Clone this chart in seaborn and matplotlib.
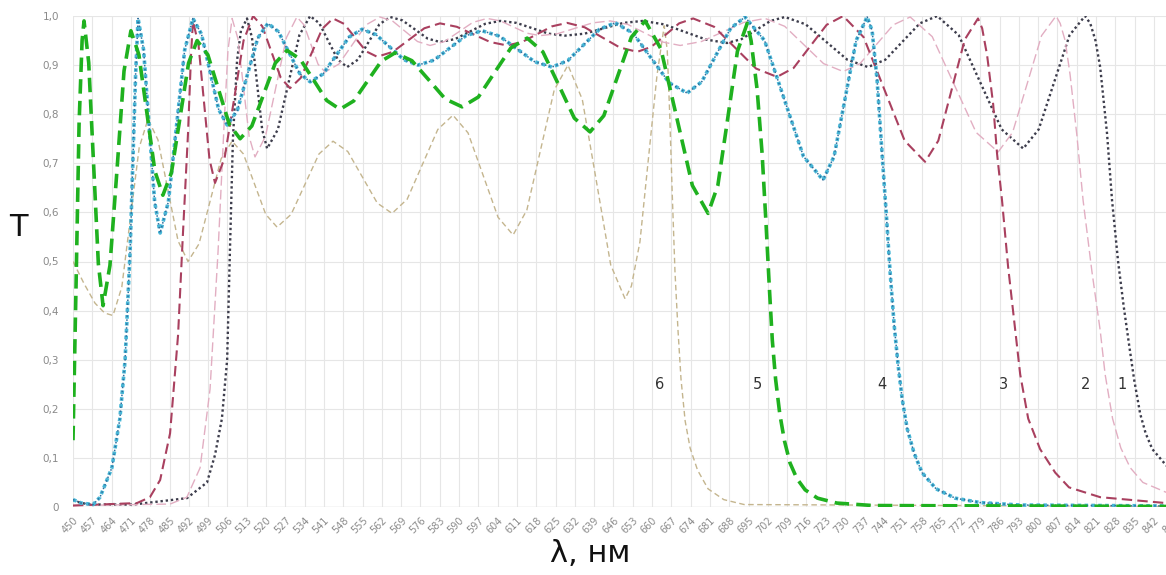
import matplotlib
matplotlib.use("Agg")
import matplotlib.pyplot as plt
import seaborn as sns
import pandas as pd

# ---------------- data (wavelength, nm ; transmission T) ----------------
x1 = [450.0, 453.0, 457.0, 471.8, 491.3, 498.6, 501.5, 504.0, 505.9, 506.9, 508.0, 509.5, 510.9, 513.1,
      514.9, 516.75, 518.6, 520.4, 524.3, 528.2, 532.1, 536.0, 539.35, 542.7, 546.05, 549.4,
      553.3, 557.2, 561.1, 565.0, 569.5, 574.05, 578.6, 583.1, 588.55, 594.0, 599.45, 604.9,
      610.8, 616.65, 622.5, 628.4, 635.5, 642.55, 649.6, 656.7, 664.3, 671.95, 679.6, 687.2,
      692.45, 697.7, 702.95, 708.2, 715.7, 723.25, 730.8, 738.3, 744.6, 750.85, 757.1, 763.4,
      771.2, 779.0, 786.8, 794.6, 800.2, 805.8, 811.4, 817.0,
      818.9, 820.8, 822.5, 825.0, 826.8, 829.0, 831.0, 833.0, 834.8, 837.0, 839.0, 841.4, 846.4, 850.0]
y1 = [0.014, 0.008, 0.005, 0.005, 0.018, 0.05, 0.106, 0.18, 0.30, 0.52, 0.75, 0.91, 0.97, 0.995,
      0.956, 0.8625, 0.769, 0.73, 0.769, 0.865, 0.961, 1.0, 0.985, 0.948, 0.911, 0.896,
      0.911, 0.947, 0.983, 0.998, 0.991, 0.9725, 0.954, 0.947, 0.953, 0.9685, 0.984, 0.99,
      0.986, 0.975, 0.964, 0.96, 0.964, 0.975, 0.986, 0.99, 0.983, 0.9675, 0.952, 0.945,
      0.953, 0.9715, 0.99, 0.998, 0.983, 0.947, 0.911, 0.896, 0.911, 0.948, 0.985, 1.0,
      0.961, 0.865, 0.769, 0.73, 0.769, 0.865, 0.961, 1.0,
      0.985, 0.95, 0.896, 0.76, 0.625, 0.50, 0.41, 0.33, 0.26, 0.19, 0.15, 0.118, 0.085, 0.068]

x2 = [450.0, 485.2, 491.3, 496.1, 499.7, 502.6, 504.8, 506.2, 507.7,
      509.8, 511.85, 513.9, 516.0, 519.8, 523.6, 527.4, 531.2, 533.75, 536.3, 538.85, 541.4,
      546.4, 551.35, 556.3, 561.3, 565.85, 570.4, 574.95, 579.5, 584.7, 589.85, 595.0, 600.2,
      605.0, 609.8, 614.6, 619.4, 625.75, 632.1, 638.45, 644.8, 651.15, 657.5, 663.85, 670.2,
      677.9, 685.6, 693.3, 701.0, 708.1, 715.15, 722.2, 729.3, 735.4, 741.45, 747.5, 753.6,
      761.6, 769.55, 777.5, 785.5, 790.75, 796.0, 801.25, 806.5,
      808.0, 809.8, 811.6, 814.0, 816.3, 819.5, 822.5, 824.3, 827.0, 830.0, 833.4, 838.0, 846.4, 850.0]
y2 = [0.003, 0.006, 0.02, 0.08, 0.24, 0.52, 0.78, 0.93, 0.995,
      0.954, 0.854, 0.754, 0.713, 0.755, 0.8555, 0.956, 0.998, 0.982, 0.942, 0.902, 0.886,
      0.902, 0.942, 0.982, 0.998, 0.99, 0.969, 0.948, 0.94, 0.948, 0.9675, 0.987, 0.995,
      0.99, 0.9775, 0.965, 0.96, 0.964, 0.975, 0.986, 0.99, 0.983, 0.965, 0.947, 0.94,
      0.948, 0.9675, 0.987, 0.995, 0.979, 0.941, 0.903, 0.887, 0.903, 0.9425, 0.982, 0.998,
      0.958, 0.8605, 0.763, 0.723, 0.763, 0.8615, 0.96, 1.0,
      0.985, 0.95, 0.88, 0.76, 0.625, 0.48, 0.36, 0.27, 0.18, 0.12, 0.08, 0.05, 0.03, 0.025]

x3 = [450.0, 473.2, 477.9, 481.6, 485.2, 488.1, 489.9, 491.7, 492.8, 493.5,
      495.5, 497.5, 499.5, 501.5, 504.95, 508.4, 511.85, 515.3, 518.65, 522.0, 525.35, 528.7,
      532.6, 536.5, 540.4, 544.3, 548.3, 552.3, 556.3, 560.3, 566.0, 571.7, 577.4, 583.1,
      589.2, 595.25, 601.3, 607.4, 612.85, 618.3, 623.75, 629.2, 635.55, 641.9, 648.25, 654.6,
      659.7, 664.75, 669.8, 674.9, 682.5, 690.1, 697.7, 705.3, 711.3, 717.3, 723.3, 729.3,
      736.7, 744.15, 751.6, 759.0, 763.8, 768.6, 773.4, 778.2,
      779.7, 781.5, 783.7, 785.1, 786.9, 789.1, 791.7, 793.5, 796.4, 800.7, 806.2, 811.2, 822.5, 846.4, 850.0]
y3 = [0.003, 0.008, 0.02, 0.055, 0.15, 0.35, 0.56, 0.76, 0.92, 0.99,
      0.942, 0.825, 0.708, 0.66, 0.71, 0.83, 0.95, 1.0, 0.979, 0.9265, 0.874, 0.853,
      0.874, 0.924, 0.974, 0.995, 0.984, 0.956, 0.928, 0.917, 0.927, 0.951, 0.975, 0.985,
      0.978, 0.9625, 0.947, 0.94, 0.947, 0.963, 0.979, 0.986, 0.977, 0.9565, 0.936, 0.927,
      0.937, 0.961, 0.985, 0.995, 0.978, 0.9355, 0.893, 0.876, 0.894, 0.938, 0.982, 1.0,
      0.957, 0.8515, 0.746, 0.703, 0.746, 0.849, 0.952, 0.995,
      0.975, 0.92, 0.82, 0.72, 0.625, 0.49, 0.36, 0.27, 0.18, 0.118, 0.07, 0.04, 0.02, 0.008, 0.007]

x4 = [450.0, 453.0, 457.3, 459.8, 464.1, 467.0, 468.9, 470.7, 471.8, 472.7, 473.6,
      475.6, 477.6, 479.6, 481.6, 484.6, 487.55, 490.5, 493.5, 496.6, 499.7, 502.8, 505.9,
      509.6, 513.3, 517.0, 520.7, 524.5, 528.35, 532.2, 536.0, 540.7, 545.4, 550.1, 554.8,
      559.9, 564.95, 570.0, 575.1, 580.9, 586.7, 592.5, 598.3, 604.65, 611.0, 617.35, 623.7,
      629.4, 635.15, 640.9, 646.6, 653.1, 659.65, 666.2, 672.7, 678.0, 683.2, 688.5, 693.7,
      700.8, 707.85, 714.9, 722.0, 726.0, 730.0, 734.0, 738.0,
      739.8, 741.6, 743.4, 744.9, 746.3, 747.8, 749.2, 750.7, 752.5, 755.0, 757.9, 763.0, 769.9, 779.0, 793.5, 850.0]
y4 = [0.015, 0.008, 0.005, 0.02, 0.08, 0.18, 0.30, 0.52, 0.72, 0.88, 0.995,
      0.931, 0.7765, 0.622, 0.558, 0.622, 0.7765, 0.931, 0.995, 0.963, 0.8865, 0.81, 0.778,
      0.808, 0.8815, 0.955, 0.985, 0.968, 0.9255, 0.883, 0.866, 0.882, 0.9195, 0.957, 0.973,
      0.962, 0.9365, 0.911, 0.90, 0.910, 0.935, 0.96, 0.97, 0.959, 0.933, 0.907, 0.896,
      0.909, 0.941, 0.973, 0.986, 0.965, 0.9145, 0.864, 0.843, 0.866, 0.9205, 0.975, 0.998,
      0.95, 0.832, 0.714, 0.666, 0.714, 0.832, 0.95, 0.998,
      0.97, 0.87, 0.72, 0.6, 0.48, 0.37, 0.29, 0.22, 0.16, 0.11, 0.07, 0.037, 0.018, 0.009, 0.004, 0.002]

x5 = [450.0, 451.1, 452.2, 453.3, 454.0,
      455.7, 457.45, 459.2, 460.9, 463.4, 466.0, 468.5, 471.0, 473.9, 476.8, 479.7, 482.6,
      485.7, 488.8, 491.9, 495.0, 498.9, 502.8, 506.7, 510.6, 514.85, 519.1, 523.35, 527.6,
      532.4, 537.2, 542.0, 546.8, 551.8, 556.8, 561.8, 566.8, 572.9, 579.0, 585.0, 591.1,
      597.0, 602.9, 608.8, 614.7, 620.4, 626.1, 631.8, 637.5, 642.5, 647.5, 652.5, 657.5,
      663.2, 668.9, 674.6, 680.3, 683.85, 687.4, 690.95, 694.5,
      695.9, 698.1, 699.9, 701.3, 702.5, 703.6, 704.8, 706.3, 708.0, 710.0, 712.5, 715.5, 720.0, 727.0, 740.0, 850.0]
y5 = [0.136, 0.45, 0.78, 0.95, 0.99,
      0.905, 0.70, 0.495, 0.41, 0.492, 0.69, 0.888, 0.97, 0.921, 0.8025, 0.684, 0.635,
      0.681, 0.7925, 0.904, 0.95, 0.921, 0.85, 0.779, 0.75, 0.776, 0.84, 0.904, 0.93,
      0.912, 0.87, 0.828, 0.81, 0.827, 0.8675, 0.908, 0.925, 0.909, 0.87, 0.831, 0.815,
      0.835, 0.885, 0.935, 0.955, 0.927, 0.86, 0.792, 0.764, 0.797, 0.877, 0.957, 0.99,
      0.933, 0.794, 0.655, 0.598, 0.655, 0.79, 0.928, 0.985,
      0.95, 0.85, 0.72, 0.58, 0.45, 0.34, 0.26, 0.19, 0.135, 0.09, 0.058, 0.035, 0.018, 0.008, 0.003, 0.001]

x6 = [450.0, 454.0, 458.0, 461.5, 464.5,
      467.7, 470.85, 474.0, 477.2, 480.8, 484.45, 488.1, 491.7, 495.7, 499.7, 503.7, 507.7,
      511.8, 515.85, 519.9, 524.0, 529.1, 534.15, 539.2, 544.3, 549.65, 555.0, 560.35, 565.7,
      571.2, 576.75, 582.3, 587.8, 593.25, 598.7, 604.15, 609.6, 614.6, 619.55, 624.5, 629.5,
      634.7, 639.85, 645.0, 650.2, 652.5, 655.6, 658.5, 661.8, 664.4,
      665.5, 666.4, 667.3, 668.3, 669.4, 670.5, 672.0, 673.8, 676.5, 680.3, 686.0, 693.4, 850.0]
y6 = [0.50, 0.455, 0.415, 0.395, 0.39,
      0.448, 0.59, 0.732, 0.79, 0.748, 0.645, 0.542, 0.50, 0.536, 0.6225, 0.709, 0.745,
      0.719, 0.6575, 0.596, 0.57, 0.596, 0.6575, 0.719, 0.745, 0.724, 0.6715, 0.619, 0.598,
      0.627, 0.698, 0.769, 0.798, 0.762, 0.676, 0.59, 0.554, 0.605, 0.727, 0.849, 0.90,
      0.83, 0.662, 0.493, 0.424, 0.45, 0.54, 0.70, 0.88, 0.98,
      0.93, 0.80, 0.64, 0.48, 0.36, 0.26, 0.175, 0.12, 0.075, 0.037, 0.015, 0.005, 0.001]

curve_labels = ["6", "5", "4", "3", "2", "1"]
label_x = [662.9, 698.1, 743.4, 787.3, 817.1, 830.5]
label_y = [0.25, 0.25, 0.25, 0.25, 0.25, 0.25]

x_ticks = list(range(450, 850, 7))
y_ticks = [0.0, 0.1, 0.2, 0.3, 0.4, 0.5, 0.6, 0.7, 0.8, 0.9, 1.0]
y_tick_labels = ["0", "0,1", "0,2", "0,3", "0,4", "0,5", "0,6", "0,7", "0,8", "0,9", "1,0"]

# ---------------- figure ----------------
sns.set_theme(style="white")
plt.rcParams['font.family'] = ['DejaVu Sans']

W, H = 1166, 575
fig = plt.figure(figsize=(W / 100, H / 100), dpi=100)
ax = fig.add_axes([73 / W, 68 / H, 1103 / W, 491 / H])
ax.set_facecolor("white")

styles = {
    "6": dict(x=x6, y=y6, color="#c4b58e", lw=1.0, ls=(0, (4, 2.5)), z=2),
    "1": dict(x=x1, y=y1, color="#3d3d4c", lw=1.7, ls=(0, (1, 1.2)), z=3),
    "2": dict(x=x2, y=y2, color="#e2aec2", lw=1.0, ls=(0, (7, 3)), z=3),
    "3": dict(x=x3, y=y3, color="#a9405f", lw=1.5, ls=(0, (5, 2.5)), z=4),
    "4": dict(x=x4, y=y4, color="#46b6d6", lw=2.6, ls=(0, (1, 0.9)), z=5),
    "5": dict(x=x5, y=y5, color="#1fb11f", lw=2.6, ls=(0, (4, 2)), z=6),
}

for name, st in styles.items():
    df = pd.DataFrame({"wl": st["x"], "T": st["y"]})
    sns.lineplot(data=df, x="wl", y="T", ax=ax, color=st["color"], linewidth=st["lw"],
                 linestyle=st["ls"], zorder=st["z"], sort=False, estimator=None)
    if name == "4":
        sns.lineplot(data=df, x="wl", y="T", ax=ax, color="#2d6e9c", linewidth=1.1,
                     linestyle=(0, (1, 1.6)), zorder=st["z"] + 0.1, sort=False, estimator=None)

for lab, lx, ly in zip(curve_labels, label_x, label_y):
    ax.text(lx, ly, lab, ha="center", va="center", fontsize=10.5, color="#333333", zorder=10)

ax.set_xlim(450, 850)
ax.set_ylim(0, 1.0)
ax.set_xticks(x_ticks)
ax.set_xticklabels([str(t) for t in x_ticks], rotation=45, ha="right", va="top",
                   rotation_mode="anchor", fontsize=7, color="#8a8a8a")
ax.set_yticks(y_ticks)
ax.set_yticklabels(y_tick_labels, fontsize=7.5, color="#8a8a8a")
ax.tick_params(axis="both", length=0, pad=6)
ax.tick_params(axis="y", pad=10)
ax.grid(True, color="#e6e6e6", linewidth=0.8)
ax.set_axisbelow(True)
for sp in ax.spines.values():
    sp.set_visible(False)
ax.axhline(0, color="#dddddd", lw=1.0, zorder=1)
ax.set_xlabel("")
ax.set_ylabel("")

fig.text(18 / W, 1 - 228 / H, "T", fontsize=22, ha="center", va="center", color="#111111")
fig.text(590 / W, 1 - 553 / H, "λ, нм", fontsize=22, ha="center", va="center", color="#111111")

fig.savefig("out.png", dpi=100, facecolor="white")
